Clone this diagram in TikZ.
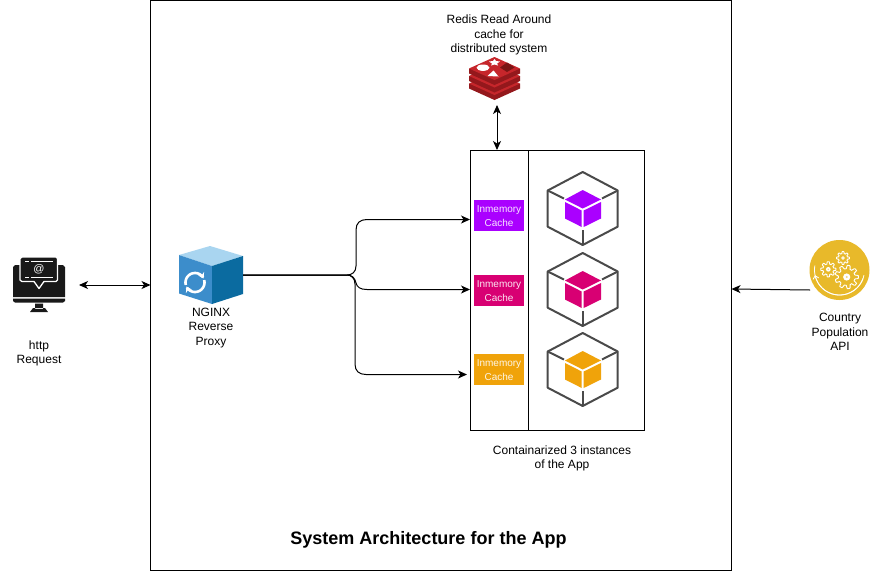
\documentclass[tikz,border=0pt]{standalone}
\usepackage{fontspec}
\setmainfont{Liberation Sans}
\usetikzlibrary{arrows.meta}
\definecolor{cubegray}{HTML}{4A4A4A}
\definecolor{cpurple}{HTML}{AA00FF}
\definecolor{cmagenta}{HTML}{D80073}
\definecolor{corange}{HTML}{F0A30A}
\definecolor{apigold}{HTML}{E8B92A}
\definecolor{redistop}{HTML}{C6262B}
\definecolor{redisside}{HTML}{94181C}
\definecolor{redisdark}{HTML}{7A1515}
\definecolor{ngtop}{HTML}{A9D5F0}
\definecolor{ngleft}{HTML}{3C8DCB}
\definecolor{ngright}{HTML}{0B6BA0}
\tikzset{
  boxline/.style={draw=black,line width=1pt,fill=none,inner sep=0pt,outer sep=0pt},
  label/.style={font=\fontsize{12}{14.2}\selectfont,align=center,inner sep=0pt,text=black},
  cachebox/.style={minimum width=49.5pt,minimum height=30pt,inner sep=0pt,outer sep=0pt,draw=#1,fill=#1,line width=.6pt},
  cachetext/.style={inner sep=0pt,text=white!90!#1,font=\fontsize{10}{14}\selectfont,align=center},
  iconspot/.style={minimum width=#1,inner sep=0pt,outer sep=0pt},
  link/.style={draw=black,line width=1pt,-{Stealth[length=9pt,width=8pt,inset=2.5pt]}},
  bilink/.style={draw=black,line width=1pt,{Stealth[length=9pt,width=8pt,inset=2.5pt]}-{Stealth[length=9pt,width=8pt,inset=2.5pt]}},
  cubeline/.style={draw=cubegray,line width=2pt,line join=round},
}
\newcommand{\appcube}[3]{%
  \begin{scope}[shift={(#1,#2)}]
    \draw[cubeline] (582.7,172)--(617.7,190.5)--(617.7,226.7)--(582.7,245)--(547.7,226.7)--(547.7,190.5)--cycle;
    \draw[cubeline] (547.7,190.5)--(564,198.5);
    \draw[cubeline] (617.7,190.5)--(602,198.5);
    \draw[cubeline] (582.7,245)--(582.7,229.5);
    \fill[#3] (582.7,190)--(601,199.5)--(582.7,208.5)--(565,199.5)--cycle;
    \fill[#3] (565,202)--(581.7,210.5)--(581.7,227)--(565,218.5)--cycle;
    \fill[#3] (601,202)--(583.7,210.5)--(583.7,227)--(601,218.5)--cycle;
  \end{scope}}
\newcommand{\redislayer}[2]{%
  \begin{scope}[shift={(0,#1)}]
    \fill[redisside] (469,68.5)--(469,73.5)--(494.5,85)--(520,73.5)--(520,68.5)--cycle;
    \fill[#2] (494.5,57)--(520,68.5)--(494.5,80)--(469,68.5)--cycle;
  \end{scope}}
\newcommand{\gearat}[4]{%
  \draw[white,line width=.9pt,fill=apigold] plot[domain=0:360,samples=121] ({#1+#3*(1+.17*max(-1,min(1,2.2*cos(#4*\x))))*cos(\x)},{#2+#3*(1+.17*max(-1,min(1,2.2*cos(#4*\x))))*sin(\x)}) -- cycle;
  \fill[white] (#1,#2) circle (#3*.36pt);
  \fill[apigold!60!white] (#1,#2) circle (#3*.12pt);}
\begin{document}
\begin{tikzpicture}[x=1pt,y=-1pt]
\useasboundingbox (0,0) rectangle (881,571);
\fill[white] (0,0) rectangle (881,571);

% frame and instance container
\node[boxline,minimum width=581pt,minimum height=570pt] (frame) at (441,285.5) {};
\node[boxline,minimum width=174.5pt,minimum height=280.5pt] (container) at (557.25,290.25) {};
\draw[black,line width=1pt] (528,150) -- (528,430.5);

% http icon
\node[iconspot=52pt,minimum height=56pt] (http) at (39,285) {};
\fill[black!90] (15,265)--(63,265)--(65,267)--(65,297)--(13,297)--(13,267)--cycle;
\fill[black!90] (13,298.5) rectangle (65,301)  (65,301)--(63,302.5)--(15,302.5)--(13,301)--cycle;
\fill[black!90] (35,303.5) rectangle (43,309) (30,312)--(33,308)--(45,308)--(48,312)--cycle;
\draw[white,line width=1.3pt,fill=black!90,line join=round] (22,257)--(56,257)--(57.5,258.5)--(57.5,280)--(56,281.5)--(44,281.5)--(39,288.5)--(34,281.5)--(22,281.5)--(20,280)--(20,258.5)--cycle;
\draw[white,line width=1pt] (25,261)--(29,261) (31,261)--(53,261) (25,277)--(29,277) (31,277)--(53,277);
\node[inner sep=0pt,text=white,font=\fontsize{11}{12}\selectfont] (httpat) at (39,269) {@};
\node[label] (httplabel) at (39,353) {http\\Request};

% nginx icon
\node[iconspot=64pt,minimum height=58pt] (nginx) at (211,275) {};
\fill[ngtop] (210,246)--(243,256)--(212,266)--(179,255)--cycle;
\fill[ngleft] (179,255)--(212,266)--(212,304)--(179,293.5)--cycle;
\fill[ngright] (212,266)--(243,256)--(243,294)--(212,304)--cycle;
\draw[white,line width=2.6pt,-{Stealth[length=5.5pt,width=7pt]}] plot[domain=195:25,samples=24] ({195+9.5*cos(\x)},{282.5-9.5*sin(\x)});
\draw[white,line width=2.6pt,-{Stealth[length=5.5pt,width=7pt]}] plot[domain=15:-155,samples=24] ({195+9.5*cos(\x)},{282.5-9.5*sin(\x)});
\node[label] (nginxlabel) at (211,328) {NGINX\\Reverse\\Proxy};

% redis
\node[iconspot=51pt,minimum height=47pt] (redis) at (494.5,81) {};
\redislayer{15}{redistop}
\redislayer{7.5}{redistop}
\redislayer{0}{redistop}
\fill[white] (483,67.7) ellipse (6.5pt and 3.2pt);
\fill[white] (489,61.5)--(493,61)--(494.5,59)--(496,61)--(500,61.5)--(497,63.5)--(498,65.5)--(494.5,64.5)--(491,65.5)--(492,63.5)--cycle;
\fill[white] (487.5,76)--(493.5,70.5)--(498.5,76.5)--cycle;
\fill[redisdark] (507,62.5)--(514.5,67.5)--(507,72)--(500,67.5)--cycle;
\node[label] (redislabel) at (499,35) {Redis Read Around\\cache for\\distributed system};

% caches
\node[cachebox=cpurple] (cache1) at (499,215) {};
\node[cachebox=cmagenta] (cache2) at (499,290) {};
\node[cachebox=corange] (cache3) at (499,369) {};
\node[cachetext=cpurple] (cache1text) at (499,216) {Inmemory\\Cache};
\node[cachetext=cmagenta] (cache2text) at (499,291) {Inmemory\\Cache};
\node[cachetext=corange] (cache3text) at (499,370) {Inmemory\\Cache};

% application cubes
\appcube{0}{0}{cpurple}
\appcube{0}{81}{cmagenta}
\appcube{0}{161}{corange}
\node[label] (containerlabel) at (562,458) {Containarized 3 instances\\of the App};

% API icon
\node[circle,fill=apigold,minimum size=60pt,inner sep=0pt,outer sep=0pt] (api) at (839.5,270) {};
\gearat{828.3}{269.3}{6.5}{8}
\gearat{843}{258}{5.5}{8}
\gearat{846.7}{277}{10}{9}
\draw[white,line width=.8pt] plot[domain=170:340,samples=40] ({839.5+25*cos(\x)},{270-25*sin(\x)});
\draw[white,line width=.8pt,-{Straight Barb[length=3pt,width=6pt]}] plot[domain=-12:-168,samples=40] ({839.5+25*cos(\x)},{270-25*sin(\x)});
\node[label] (apilabel) at (840,332) {Country\\Population\\API};

% title
\node[inner sep=0pt,font=\bfseries\fontsize{18}{20}\selectfont] (title) at (428.5,540) {System Architecture for the App};

% connector ends
\coordinate (httpend) at (79,285);
\coordinate (redisend) at (497,105);
\coordinate (apiend) at (810,290);
\coordinate (in1) at (470,219.5);
\coordinate (in2) at (470,289.5);
\coordinate (in3) at (467,374.5);

% connectors
\draw[bilink] (httpend) -- (frame.west |- httpend);
\draw[bilink] (redisend) -- (redisend |- container.north);
\draw[link] (apiend) -- (frame.east |- 0,289);
\draw[link] (nginx.east) -- (347,275) .. controls (352,275) and (356,272) .. (356,266) -- (356,230) .. controls (356,223) and (360,219.5) .. (367,219.5) -- (in1);
\draw[link] (nginx.east) -- (347,275) .. controls (352,275) and (355,278) .. (356,283) .. controls (357,287) and (360,289.5) .. (367,289.5) -- (in2);
\draw[link] (nginx.east) -- (347,275) .. controls (351,275) and (355,278) .. (355,284) -- (355,364) .. controls (355,371) and (359,374.5) .. (366,374.5) -- (in3);
\end{tikzpicture}
\end{document}
